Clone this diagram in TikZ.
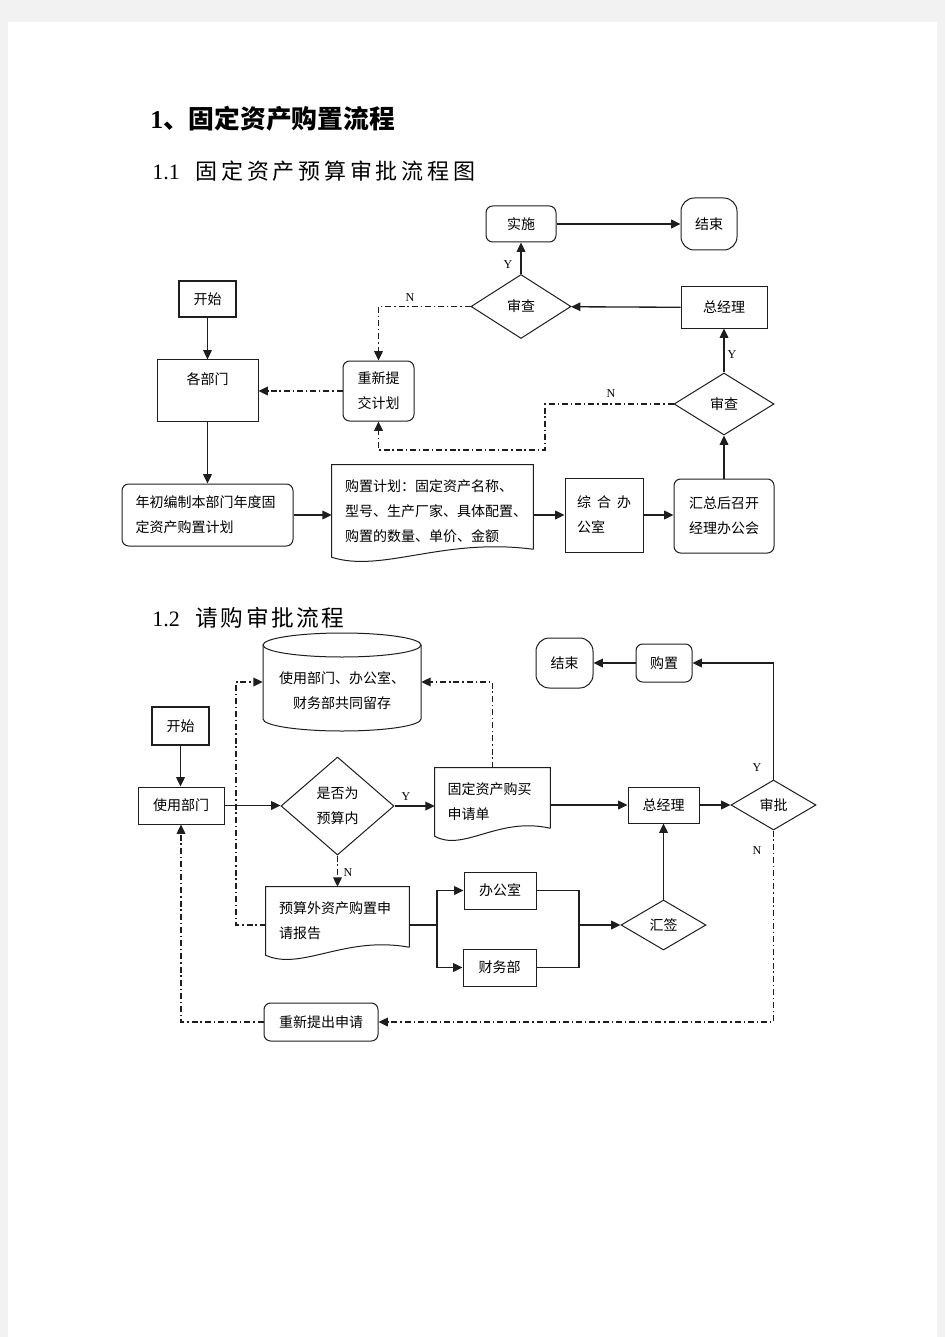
\documentclass[tikz,border=0pt]{standalone}
\usepackage{fontspec}
\setmainfont{Liberation Serif}
\newfontfamily\cjk{Noto Sans CJK SC}
\newfontfamily\cjkwa[LetterSpace=17]{Noto Sans CJK SC}
\newfontfamily\cjkwb[LetterSpace=11]{Noto Sans CJK SC}
\usetikzlibrary{arrows.meta,shapes.geometric,calc}
\definecolor{pagegray}{RGB}{242,242,242}
\definecolor{ln}{RGB}{30,30,30}
\newcommand\cjkn{\cjk\fontsize{10.5pt}{18.75pt}\selectfont}
\newcommand\docpath[2]{%
  \draw[ln, line width=0.75pt] ($(#1.south east)+(0,-8)$) -- (#1.north east) -- (#1.north west) -- (#1.south west)
    .. controls +(0.25*#2,16) and +(-0.45*#2,-12) .. ($(#1.south east)+(0,-8)$);}
\tikzset{
  nd/.style={draw=ln, line width=0.75pt, inner sep=0pt, align=center, font=\cjkn},
  sz/.style n args={2}{minimum width=#1*0.75pt, minimum height=#2*0.75pt},
  rnd/.style={nd, rounded corners=5pt},
  dia/.style={nd, diamond},
  docn/.style={inner sep=0pt, font=\cjkn, align=left},
  arr/.style={-{Triangle[length=7pt,width=6.5pt]}, line width=1pt, draw=ln},
  lnone/.style={line width=1pt, draw=ln},
  dd/.style={dash pattern=on 4.5pt off 2.2pt on 1pt off 2.2pt},
  lbl/.style={inner sep=0pt, font=\fontsize{9pt}{10pt}\selectfont}
}
\begin{document}
\begin{tikzpicture}[x=0.75pt,y=-0.75pt]
\useasboundingbox (0,0) rectangle (945,1337);
\fill[pagegray] (0,0) rectangle (945,1337);
\fill[white] (8,22) rectangle (937,1337);

% headings
\node[anchor=base west, inner sep=0] (h1) at (150,129) {\fontsize{19.3pt}{21pt}\selectfont\bfseries 1\cjk\bfseries 、固定资产购置流程};
\node[anchor=base west, inner sep=0] (h11) at (152,180) {\fontsize{16.5pt}{18pt}\selectfont 1.1\hspace{12pt}\cjkwa 固定资产预算审批流程图};
\node[anchor=base west, inner sep=0] (h12) at (152,626) {\fontsize{16.5pt}{18pt}\selectfont 1.2\hspace{12pt}\cjkwb\fontsize{17pt}{18pt}\selectfont 请购审批流程};

% ---------- section 1.1 ----------
\node[nd, sz={57}{36}, line width=1.2pt] (s1) at (207.5,299) {开始};
\node[nd, minimum width=101*0.75pt, text height=18.4pt, text depth=27.4pt] (bm) at (207.5,390.5) {各部门};
\node[rnd, sz={171}{62}, text width=108pt, align=left] (nc) at (207.5,515) {年初编制本部门年度固\\定资产购置计划};
\node[docn, sz={201}{92}, text width=131.25pt] (plan) at (432.5,511) {购置计划：固定资产名称、\\型号、生产厂家、具体配置、\\购置的数量、单价、金额};
\docpath{plan}{201}
\node[nd, sz={78}{74}, text width=40.5pt, align=left] (zh) at (604,515) {综\hspace{4.5pt}合\hspace{4.5pt}办\\公室};
\node[rnd, sz={100}{74}] (hz) at (724,516) {汇总后召开\\经理办公会};
\node[dia, sz={100}{62}] (rv2) at (724,404) {审查};
\node[nd, sz={86}{41}] (gm) at (724,307.5) {总经理};
\node[dia, sz={100}{64}] (rv1) at (521,306.5) {审查};
\node[rnd, sz={70}{36}] (ss) at (521,224) {实施};
\node[nd, sz={56}{52}, rounded corners=10pt] (end1) at (709,224) {结束};
\node[rnd, sz={71}{60}] (rs) at (378.5,391) {重新提\\交计划};

\draw[arr] (s1) -- (bm);
\draw[arr] (bm) -- (nc);
\draw[arr] (nc.east) -- (nc.east -| plan.west);
\draw[arr] (zh.west -| plan.east) -- (zh.west);
\draw[arr] (zh.east) -- (zh.east -| hz.west);
\draw[arr] (hz) -- (rv2);
\draw[arr] (rv2) -- (gm);
\draw[arr] (gm) -- (rv1);
\draw[arr] (rv1) -- (ss);
\draw[arr] (ss) -- (end1);
\draw[arr, dd] (rv1.west) -| (rs.north);
\coordinate (k1) at (545,450);
\draw[arr, dd] (rv2.west) -| (k1) -| (rs.south);
\draw[arr, dd] (rs.west) -- (rs.west -| bm.east);

\node[lbl] (ly1) at (508,265) {Y};
\node[lbl] (lna) at (732,355) {Y};
\node[lbl] (lnb) at (410,298) {N};
\node[lbl] (lnc) at (611,394) {N};

% ---------- section 1.2 ----------
\draw[ln, line width=0.75pt] (263,645) -- (263,719) arc[start angle=180, end angle=360, x radius=59.25pt, y radius=9pt] -- (421,645);
\draw[ln, line width=0.75pt] (342,645) ellipse [x radius=59.25pt, y radius=9pt];
\node[inner sep=0pt, sz={158}{98}, font=\cjkn] (cyl) at (342,682)
  {\raisebox{-9.3pt}[0pt][0pt]{\begin{tabular}{@{}c@{}}使用部门、办公室、\\财务部共同留存\end{tabular}}};

\node[nd, sz={57}{38}, line width=1.2pt] (s2) at (180.5,726) {开始};
\node[nd, sz={86}{37}] (ud) at (181,805.5) {使用部门};
\node[dia, sz={113}{98}] (yb) at (337.5,806) {是否为\\预算内};
\node[docn, sz={115}{68}, text width=67.5pt] (sq) at (492.5,802) {固定资产购买\\申请单};
\docpath{sq}{115}
\node[nd, sz={71}{36}] (gm2) at (663.5,805) {总经理};
\node[dia, sz={85}{50}] (sp) at (773.5,805) {审批};
\node[nd, sz={57}{50}, rounded corners=10pt] (end2) at (564.5,663) {结束};
\node[rnd, sz={56}{38}] (gz) at (664,663) {购置};
\node[docn, sz={143}{68}, text width=87.75pt] (ys) at (337.5,921) {预算外资产购置申\\请报告};
\docpath{ys}{143}
\node[nd, sz={72}{37}] (bgs) at (500,890.5) {办公室};
\node[nd, sz={73}{37}] (cwb) at (499.5,967.5) {财务部};
\node[dia, sz={85}{50}] (hq) at (663.5,925) {汇签};
\node[rnd, sz={114}{38}] (cx) at (321,1022) {重新提出申请};

\draw[arr] (s2.south) -- (s2.south |- ud.north);
\draw[arr] (ud.east) -- (ud.east -| yb.west);
\draw[arr] (yb.east) -- (yb.east -| sq.west);
\draw[arr, dd] (yb.south) -- (yb.south |- ys.north);
\draw[arr] (gm2.west -| sq.east) -- (gm2.west);
\draw[arr] (gm2) -- (sp);
\draw[arr] (sp.north) |- (gz.east);
\draw[arr] (gz) -- (end2);
\coordinate (b1) at (437,925);
\coordinate (b2) at (579,925);
\draw[lnone] (ys.east |- b1) -- (b1);
\draw[arr] (b1) |- (bgs.west);
\draw[arr] (b1) |- (cwb.west);
\draw[lnone] (bgs.east) -| (b2);
\draw[lnone] (cwb.east) -| (b2);
\draw[arr] (b2) -- (hq.west);
\draw[arr] (hq) -- (gm2);
\draw[arr, dd] (sp.south) |- (cx.east);
\draw[arr, dd] (cx.west) -| (ud.south);
\coordinate (k2) at (236,925);
\draw[arr, dd] (ys.west |- k2) -- (k2) |- (cyl.west);
\draw[arr, dd] (sq.north) |- (cyl.east);

\node[lbl] (ly3) at (406,797) {Y};
\node[lbl] (lnd) at (348,873) {N};
\node[lbl] (ly4) at (757,768) {Y};
\node[lbl] (lne) at (757,851) {N};
\end{tikzpicture}
\end{document}
